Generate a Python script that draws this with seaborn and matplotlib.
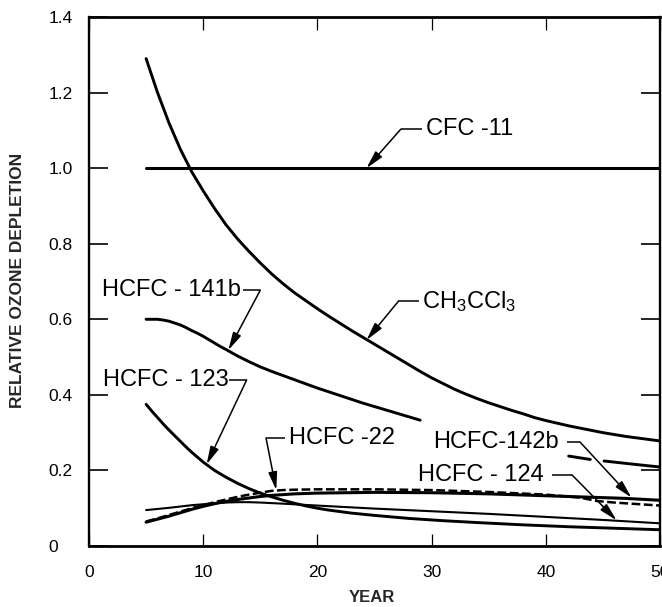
import matplotlib
matplotlib.use("Agg")
import matplotlib.pyplot as plt
import pandas as pd
import seaborn as sns

sns.set_theme(style="white")
plt.rcParams["font.family"] = ["Liberation Sans", "DejaVu Sans"]
plt.rcParams["mathtext.default"] = "regular"

# ---------------- data ----------------
cfc11_year = [5, 50]
cfc11_odp = [1.0, 1.0]

ch3ccl3_year = [5, 5.5, 6, 6.5, 7, 7.5, 8, 8.5, 9, 9.5, 10, 11, 12, 13, 14, 15, 16, 17, 18, 19,
                20, 21, 22, 23, 24, 25, 26, 27, 28, 29, 30, 31, 32, 33, 34, 35, 36, 37, 38,
                39, 40, 41, 42, 43, 44, 45, 46, 47, 48, 49, 50]
ch3ccl3_odp = [1.29, 1.245, 1.20, 1.16, 1.12, 1.085, 1.05, 1.02, 0.99, 0.965, 0.94, 0.893,
               0.85, 0.813, 0.78, 0.749, 0.72, 0.694, 0.67, 0.649, 0.628, 0.608, 0.589,
               0.57, 0.552, 0.534, 0.516, 0.498, 0.48, 0.462, 0.445, 0.43, 0.415, 0.402,
               0.39, 0.379, 0.369, 0.359, 0.35, 0.34, 0.332, 0.325, 0.318, 0.312, 0.306,
               0.30, 0.295, 0.29, 0.286, 0.282, 0.278]

hcfc141b_year = [5, 6, 6.5, 7, 7.5, 8, 8.5, 9, 9.5, 10, 10.5, 11, 11.5, 12, 13, 14, 15, 16,
                 17, 18, 19, 20, 21, 22, 23, 24, 25, 26, 27, 28, 29]
hcfc141b_odp = [0.60, 0.60, 0.598, 0.595, 0.59, 0.585, 0.578, 0.57, 0.563, 0.555, 0.546,
                0.537, 0.528, 0.52, 0.503, 0.488, 0.474, 0.462, 0.451, 0.44, 0.429, 0.418,
                0.408, 0.398, 0.388, 0.378, 0.369, 0.36, 0.351, 0.342, 0.333]
hcfc141b_late_year = [42, 43.9]
hcfc141b_late_odp = [0.238, 0.229]
hcfc141b_tail_year = [45.1, 47.5, 50]
hcfc141b_tail_odp = [0.225, 0.217, 0.209]

hcfc123_year = [5, 5.5, 6, 6.5, 7, 7.5, 8, 8.5, 9, 9.5, 10, 10.5, 11, 11.5, 12, 12.5, 13,
                13.5, 14, 15, 16, 17, 18, 19, 20, 21, 22, 23, 24, 25, 26.5, 28, 29.5, 31,
                32.5, 34, 36, 38, 40, 42, 44, 46, 48, 50]
hcfc123_odp = [0.375, 0.357, 0.34, 0.323, 0.307, 0.292, 0.277, 0.262, 0.248, 0.235, 0.222,
               0.211, 0.20, 0.191, 0.182, 0.174, 0.166, 0.159, 0.152, 0.14, 0.13, 0.121,
               0.113, 0.106, 0.10, 0.095, 0.091, 0.087, 0.084, 0.081, 0.077, 0.073, 0.07,
               0.067, 0.0645, 0.062, 0.059, 0.056, 0.0535, 0.051, 0.049, 0.047, 0.045, 0.043]

hcfc22_year = [5, 6, 7, 8, 9, 10, 11, 12, 13, 14, 15, 16, 17, 18, 20, 25, 30, 35, 40, 43,
               44.5, 46, 48, 50]
hcfc22_odp = [0.065, 0.073, 0.082, 0.091, 0.10, 0.108, 0.116, 0.123, 0.13, 0.136, 0.141,
              0.146, 0.148, 0.149, 0.15, 0.15, 0.148, 0.143, 0.136, 0.128, 0.119, 0.115,
              0.111, 0.107]

hcfc142b_year = [5, 6, 7, 8, 9, 10, 11, 12, 13, 14, 15, 16, 17, 18, 20, 25, 30, 35, 40, 44,
                 47, 50]
hcfc142b_odp = [0.063, 0.071, 0.079, 0.088, 0.097, 0.105, 0.112, 0.118, 0.123, 0.127,
                0.131, 0.134, 0.136, 0.138, 0.14, 0.142, 0.141, 0.138, 0.133, 0.129,
                0.126, 0.121]

hcfc124_year = [5, 7, 9, 11, 12, 13, 14, 15, 17, 20, 25, 30, 35, 40, 45, 50]
hcfc124_odp = [0.095, 0.101, 0.108, 0.113, 0.115, 0.116, 0.116, 0.115, 0.112, 0.107,
               0.099, 0.092, 0.085, 0.077, 0.069, 0.06]

xtick_values = [0, 10, 20, 30, 40, 50]
xtick_labels = ["0", "10", "20", "30", "40", "50"]
ytick_values = [0, 0.2, 0.4, 0.6, 0.8, 1.0, 1.2, 1.4]
ytick_labels = ["0", "0.2", "0.4", "0.6", "0.8", "1.0", "1.2", "1.4"]

# ---------------- figure ----------------
W, H = 662, 607
fig = plt.figure(figsize=(W / 100, H / 100), dpi=100)
ax = fig.add_axes([89 / W, 1 - 546 / H, (660 - 89) / W, (546 - 17) / H])


def curve(years, odp, lw=2.0, ls="-"):
    df = pd.DataFrame({"year": years, "odp": odp})
    sns.lineplot(data=df, x="year", y="odp", ax=ax, color="black", lw=lw,
                 linestyle=ls, estimator=None, sort=False, legend=False)


curve(cfc11_year, cfc11_odp, lw=2.2)
curve(ch3ccl3_year, ch3ccl3_odp, lw=2.1)
curve(hcfc141b_year, hcfc141b_odp, lw=2.1)
curve(hcfc141b_late_year, hcfc141b_late_odp, lw=2.1)
curve(hcfc141b_tail_year, hcfc141b_tail_odp, lw=2.1)
curve(hcfc123_year, hcfc123_odp, lw=2.1)
curve(hcfc142b_year, hcfc142b_odp, lw=2.2)
curve(hcfc22_year, hcfc22_odp, lw=1.8, ls=(0, (3.5, 1.4)))
curve(hcfc124_year, hcfc124_odp, lw=1.5)

# ---------------- labels with leader arrows ----------------
# (text, text_x, y, ha, leader_start_x, leader_corner_x, tip_x, tip_y)
callouts = [
    ("CFC -11", 29.5, 1.103, "left", 29.2, 27.3, 24.3, 1.0),
    ("CH$_3$CCl$_3$", 29.2, 0.648, "left", 28.9, 27.1, 24.3, 0.545),
    ("HCFC - 141b", 13.3, 0.677, "right", 13.5, 15.0, 12.2, 0.518),
    ("HCFC - 123", 12.2, 0.439, "right", 12.3, 13.8, 10.3, 0.216),
    ("HCFC -22", 17.5, 0.286, "left", 17.2, 15.5, 16.4, 0.148),
    ("HCFC-142b", 41.1, 0.275, "right", 41.9, 43.0, 47.5, 0.128),
    ("HCFC - 124", 39.8, 0.188, "right", 40.5, 42.3, 46.2, 0.068),
]
for text, tx, ty, ha, hx, cx, px, py in callouts:
    ax.text(tx, ty, text, ha=ha, va="center", fontsize=17, color="black")
    ax.plot([hx, cx], [ty, ty], color="black", lw=1.1, solid_capstyle="butt")
    ax.annotate("", xy=(px, py), xytext=(cx, ty),
                arrowprops=dict(arrowstyle="-|>,head_length=0.9,head_width=0.22",
                                mutation_scale=12, lw=1.1, color="black",
                                shrinkA=0, shrinkB=0))

# ---------------- axes ----------------
ax.set_xlim(0, 50)
ax.set_ylim(0, 1.4)
ax.set_xticks(xtick_values)
ax.set_xticklabels(xtick_labels, fontsize=12.5)
ax.set_yticks(ytick_values)
ax.set_yticklabels(ytick_labels, fontsize=12.5, ha="left")

ax.tick_params(axis="x", direction="in", top=True, bottom=True, length=9, width=0.9,
               pad=14, colors="black")
ax.tick_params(axis="y", direction="in", left=True, right=True, length=14, width=1.2,
               pad=29, colors="black")

for side, spine in ax.spines.items():
    spine.set_visible(True)
    spine.set_color("black")
    spine.set_linewidth(2.0 if side in ("bottom", "top") else 1.7)

ax.set_xlabel("YEAR", fontsize=12, fontweight="bold", va="center")
ax.set_ylabel("RELATIVE OZONE DEPLETION", fontsize=12.5, fontweight="bold", va="center")
ax.xaxis.set_label_coords((372 - 89) / 571, -(598 - 546) / 529)
ax.yaxis.set_label_coords(-(89 - 18) / 571, (546 - 280) / 529)

fig.savefig("out.png", dpi=100, facecolor="white")
